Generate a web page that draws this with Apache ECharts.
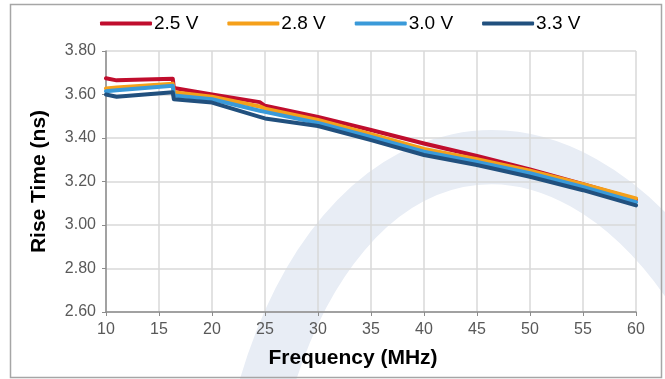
<!DOCTYPE html>
<html>
<head>
<meta charset="utf-8">
<script src="https://cdn.jsdelivr.net/npm/echarts@6/dist/echarts.min.js"></script>
<style>
  html, body { margin: 0; padding: 0; background: #ffffff; }
  #chart { width: 665px; height: 379px; }
</style>
</head>
<body>
<div id="chart"></div>
<script>
// Frequency sweep points (MHz)
const frequencies = [10, 11, 16.3, 16.4, 20, 24.5, 25, 30, 35, 40, 45, 50, 55, 60];

// Rise time (ns) for each supply voltage
const rise25 = [3.675, 3.665, 3.672, 3.630, 3.600, 3.565, 3.548, 3.497, 3.437, 3.375, 3.317, 3.256, 3.188, 3.118];
const rise28 = [3.628, 3.632, 3.650, 3.610, 3.590, 3.545, 3.535, 3.483, 3.418, 3.350, 3.302, 3.250, 3.188, 3.122];
const rise30 = [3.615, 3.620, 3.640, 3.595, 3.578, 3.525, 3.520, 3.469, 3.405, 3.337, 3.290, 3.238, 3.175, 3.105];
const rise33 = [3.600, 3.590, 3.610, 3.578, 3.563, 3.497, 3.490, 3.455, 3.390, 3.322, 3.276, 3.222, 3.160, 3.090];

const seriesNames = ['2.5 V', '2.8 V', '3.0 V', '3.3 V'];
const seriesColors = ['#c00d2d', '#f5a01a', '#3a9ad9', '#21507e'];
const seriesValues = [rise25, rise28, rise30, rise33];

const xTicks = { min: 10, max: 60, step: 5 };
const yTicks = { min: 2.6, max: 3.8, step: 0.2 };

const font = '"Liberation Sans", Arial, sans-serif';

const chart = echarts.init(document.getElementById('chart'), null, { renderer: 'canvas' });

const series = seriesNames.map((name, i) => ({
  name: name,
  type: 'line',
  data: frequencies.map((f, j) => [f, seriesValues[i][j]]),
  symbol: 'none',
  smooth: false,
  z: 3,
  lineStyle: { width: 4, color: seriesColors[i], cap: 'round', join: 'round' },
  itemStyle: { color: seriesColors[i] }
}));

chart.setOption({
  animation: false,
  backgroundColor: '#ffffff',
  graphic: [
    // faint logo mark behind the plot
    {
      type: 'bezierCurve',
      z: -10,
      silent: true,
      shape: { x1: 262, y1: 400, cpx1: 340, cpy1: 115, cpx2: 560, cpy2: 80, x2: 700, y2: 300 },
      style: { stroke: '#e8edf5', lineWidth: 54, fill: null }
    },
    // outer frame
    {
      type: 'rect',
      z: -5,
      silent: true,
      shape: { x: 10.5, y: 4.5, width: 651, height: 373 },
      style: { fill: null, stroke: '#a6a6a6', lineWidth: 1.5 }
    }
  ],
  legend: {
    top: 9,
    left: 95,
    itemWidth: 52,
    itemHeight: 4,
    itemGap: 29,
    icon: 'roundRect',
    textStyle: { fontFamily: font, fontSize: 19, color: '#000000', padding: [0, 0, 0, -3] },
    data: seriesNames
  },
  grid: { left: 106, right: 29, top: 51, bottom: 67, containLabel: false },
  xAxis: {
    type: 'value',
    min: xTicks.min,
    max: xTicks.max,
    interval: xTicks.step,
    name: 'Frequency (MHz)',
    nameLocation: 'middle',
    nameGap: 36,
    nameTextStyle: { fontFamily: font, fontSize: 21, fontWeight: 'bold', color: '#000000', padding: [0, 36, 0, 0] },
    axisLine: { show: true, lineStyle: { color: '#8c8c8c', width: 1.5 } },
    axisTick: { show: true, length: 4, lineStyle: { color: '#8c8c8c' } },
    axisLabel: { fontFamily: font, fontSize: 16, color: '#595959', margin: 10 },
    splitLine: { show: true, lineStyle: { color: '#d9d9d9', width: 1.5 } }
  },
  yAxis: {
    type: 'value',
    min: yTicks.min,
    max: yTicks.max,
    interval: yTicks.step,
    name: 'Rise Time (ns)',
    nameLocation: 'middle',
    nameGap: 56,
    nameRotate: 90,
    nameTextStyle: { fontFamily: font, fontSize: 21, fontWeight: 'bold', color: '#000000' },
    axisLine: { show: true, lineStyle: { color: '#8c8c8c', width: 1.5 } },
    axisTick: { show: true, length: 4, lineStyle: { color: '#8c8c8c' } },
    axisLabel: { fontFamily: font, fontSize: 16, color: '#595959', margin: 10, formatter: v => v.toFixed(2) },
    splitLine: { show: true, lineStyle: { color: '#d9d9d9', width: 1.5 } }
  },
  series: series
});
</script>
</body>
</html>
